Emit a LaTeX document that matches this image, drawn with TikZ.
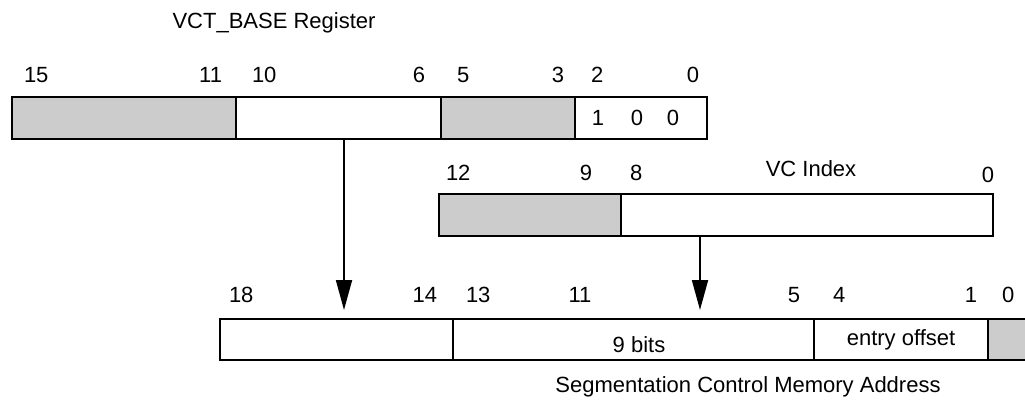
\documentclass[tikz,border=0pt]{standalone}
\usepackage{fontspec}
\setmainfont{Liberation Sans}
\usetikzlibrary{arrows.meta}
\definecolor{fieldgray}{RGB}{204,204,204}
\tikzset{
  field/.style={draw, line width=1.8pt, anchor=north west, inner sep=0pt, outer sep=0pt, minimum height=#1},
  field/.default=42pt,
  lbl/.style={inner sep=0pt, outer sep=0pt, font=\fontsize{22}{26}\selectfont},
  arr/.style={line width=1.8pt, -{Triangle[length=30pt,width=16pt]}}
}
\begin{document}
\begin{tikzpicture}[x=1pt,y=-1pt]
\useasboundingbox (0,0) rectangle (1025,410);
\clip (0,0) rectangle (1025,410);
% title
\node[lbl, anchor=base] (title) at (274,28) {VCT\_BASE Register};
% top register
\node[field, fill=fieldgray, minimum width=224pt] (f1) at (12,97) {};
\node[field, minimum width=205pt] (f2) at (236,97) {};
\node[field, fill=fieldgray, minimum width=134pt] (f3) at (441,97) {};
\node[field, minimum width=132pt] (f4) at (575,97) {};
\node[lbl, anchor=base west] (b15) at (24,82) {15};
\node[lbl, anchor=base east] (b11) at (222,82) {11};
\node[lbl, anchor=base west] (b10) at (252,82) {10};
\node[lbl, anchor=base east] (b6) at (425,82) {6};
\node[lbl, anchor=base west] (b5) at (457,82) {5};
\node[lbl, anchor=base east] (b3) at (564,82) {3};
\node[lbl, anchor=base west] (b2) at (591,82) {2};
\node[lbl, anchor=base east] (b0) at (699,82) {0};
\node[lbl, anchor=base] (v1) at (598,125) {1};
\node[lbl, anchor=base] (v2) at (637,125) {0};
\node[lbl, anchor=base] (v3) at (673,125) {0};
% VC index
\node[field, fill=fieldgray, minimum width=182pt] (g1) at (439,194) {};
\node[field, minimum width=372pt] (g2) at (621,194) {};
\node[lbl, anchor=base west] (c12) at (446,180) {12};
\node[lbl, anchor=base east] (c9) at (592,180) {9};
\node[lbl, anchor=base west] (c8) at (630,180) {8};
\node[lbl, anchor=base] (vci) at (811,176) {VC Index};
\node[lbl, anchor=base east] (c0) at (994,182) {0};
% address
\node[field=41pt, minimum width=233pt] (h1) at (220,319) {};
\node[field=41pt, minimum width=361pt] (h2) at (453,319) {};
\node[field=41pt, minimum width=174pt] (h3) at (814,319) {};
\node[field=41pt, fill=fieldgray, minimum width=60pt] (h4) at (988,319) {};
\node[lbl, anchor=base west] (d18) at (229,302) {18};
\node[lbl, anchor=base east] (d14) at (437,302) {14};
\node[lbl, anchor=base west] (d13) at (466,302) {13};
\node[lbl, anchor=base] (d11) at (580,302) {11};
\node[lbl, anchor=base east] (d5) at (800,302) {5};
\node[lbl, anchor=base west] (d4) at (833,302) {4};
\node[lbl, anchor=base east] (d1) at (977,302) {1};
\node[lbl, anchor=base west] (d0) at (1002,302) {0};
\node[lbl, anchor=base] (nine) at (639,352) {9 bits};
\node[lbl, anchor=base] (entry) at (901,345) {entry offset};
\node[lbl, anchor=base] (scma) at (748,392) {Segmentation Control Memory Address};
% arrows
\coordinate (t1) at (344,310);
\coordinate (t2) at (700,310);
\draw[arr] (t1 |- f2.south) -- (t1);
\draw[arr] (t2 |- g2.south) -- (t2);
\end{tikzpicture}
\end{document}
